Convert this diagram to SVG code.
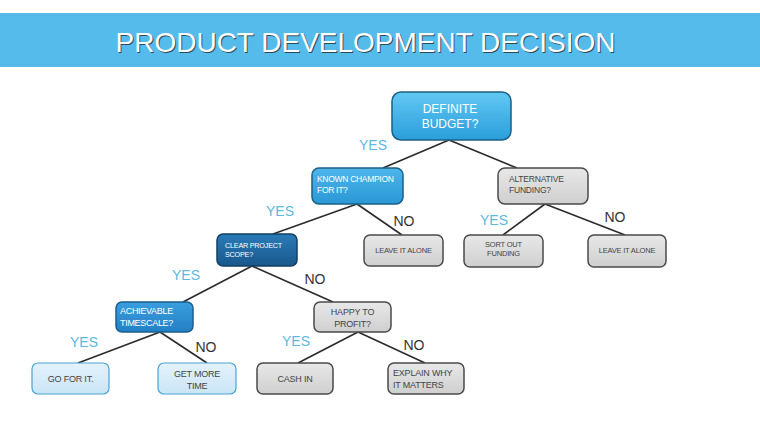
<svg xmlns="http://www.w3.org/2000/svg" width="760" height="428" viewBox="0 0 760 428">
<defs>
<linearGradient id="gBlue" x1="0" y1="0" x2="0" y2="1"><stop offset="0" stop-color="#62c8f2"/><stop offset="1" stop-color="#2a9edb"/></linearGradient>
<linearGradient id="gBlue2" x1="0" y1="0" x2="0" y2="1"><stop offset="0" stop-color="#4db5ea"/><stop offset="1" stop-color="#2a98d6"/></linearGradient>
<linearGradient id="gDark" x1="0" y1="0" x2="0" y2="1"><stop offset="0" stop-color="#2a7bb8"/><stop offset="1" stop-color="#19588c"/></linearGradient>
<linearGradient id="gMid" x1="0" y1="0" x2="0" y2="1"><stop offset="0" stop-color="#3a9ede"/><stop offset="1" stop-color="#2380c4"/></linearGradient>
<linearGradient id="gGray" x1="0" y1="0" x2="0" y2="1"><stop offset="0" stop-color="#e8e8e8"/><stop offset="1" stop-color="#cfcfcf"/></linearGradient>
<linearGradient id="gLight" x1="0" y1="0" x2="0" y2="1"><stop offset="0" stop-color="#e4f2fb"/><stop offset="1" stop-color="#cae5f6"/></linearGradient>
</defs>
<style>
text{font-family:"Liberation Sans",Arial,sans-serif}
.title{font-size:28px;fill:#ffffff}
.tshadow{font-size:28px;fill:#2d4a5a}
.yes{font-size:14px;fill:#5bb8e0;text-anchor:middle}
.no{font-size:14px;fill:#333333;text-anchor:middle}
.conn line{stroke:#2b2b2b;stroke-width:1.6}
.nb{stroke:#1d5f86;stroke-width:1.5}
.ng{fill:url(#gGray);stroke:#4a4a4a;stroke-width:1.5}
.nl{fill:url(#gLight);stroke:#4aa3d6;stroke-width:1.2}
.w{fill:#ffffff}
.d{fill:#444444}
.c{text-anchor:middle}
</style>
<rect x="0" y="0" width="760" height="428" fill="#ffffff"/>
<rect x="0" y="13" width="760" height="54" fill="#55bbea"/>
<text class="tshadow" x="366.5" y="53" text-anchor="middle">PRODUCT DEVELOPMENT DECISION</text>
<text class="title" x="365.5" y="52" text-anchor="middle">PRODUCT DEVELOPMENT DECISION</text>

<g id="connectors" class="conn">
<line x1="449" y1="140" x2="383" y2="168"/>
<line x1="449" y1="140" x2="517" y2="168"/>
<line x1="357" y1="204" x2="273" y2="234"/>
<line x1="357" y1="204" x2="402" y2="235"/>
<line x1="545" y1="204" x2="503" y2="235"/>
<line x1="545" y1="204" x2="625" y2="235"/>
<line x1="252" y1="266" x2="183" y2="302"/>
<line x1="252" y1="266" x2="333" y2="302"/>
<line x1="160" y1="332" x2="78" y2="363"/>
<line x1="160" y1="332" x2="207" y2="363"/>
<line x1="358" y1="332" x2="298" y2="363"/>
<line x1="358" y1="332" x2="425" y2="363"/>
</g>

<g id="labels">
<text class="yes" x="373" y="150">YES</text>
<text class="yes" x="280" y="216">YES</text>
<text class="no" x="404" y="226">NO</text>
<text class="yes" x="494" y="225">YES</text>
<text class="no" x="615" y="222">NO</text>
<text class="yes" x="186" y="280">YES</text>
<text class="no" x="315" y="284">NO</text>
<text class="yes" x="84" y="347">YES</text>
<text class="no" x="206" y="352">NO</text>
<text class="yes" x="296" y="346">YES</text>
<text class="no" x="414" y="350">NO</text>
</g>

<g id="definite-budget">
<rect x="392" y="92" width="119" height="48" rx="9" fill="url(#gBlue)" class="nb"/>
<text class="w c" x="450" y="113" font-size="12">DEFINITE</text>
<text class="w c" x="450" y="128" font-size="12">BUDGET?</text>
</g>
<g id="known-champion">
<rect x="312" y="168" width="91" height="36" rx="7" fill="url(#gBlue2)" class="nb"/>
<text class="w" x="317" y="182" font-size="8.5" letter-spacing="-0.3">KNOWN CHAMPION</text>
<text class="w" x="317" y="193" font-size="8.5" letter-spacing="-0.3">FOR IT?</text>
</g>
<g id="alternative-funding">
<rect x="498" y="168" width="90" height="36" rx="7" class="ng"/>
<text class="d" x="509" y="182" font-size="8.5" letter-spacing="-0.2">ALTERNATIVE</text>
<text class="d" x="509" y="193" font-size="8.5" letter-spacing="-0.2">FUNDING?</text>
</g>
<g id="clear-project-scope">
<rect x="217" y="234" width="80" height="32" rx="6" fill="url(#gDark)" stroke="#123f63" stroke-width="1.5"/>
<text class="w" x="225" y="248" font-size="7.2" letter-spacing="-0.2">CLEAR PROJECT</text>
<text class="w" x="225" y="257" font-size="7.2" letter-spacing="-0.2">SCOPE?</text>
</g>
<g id="leave-it-alone-1">
<rect x="364" y="235" width="79" height="31" rx="6" class="ng"/>
<text class="d c" x="403.5" y="253" font-size="7.5" letter-spacing="-0.2">LEAVE IT ALONE</text>
</g>
<g id="sort-out-funding">
<rect x="464" y="235" width="79" height="32" rx="6" class="ng"/>
<text class="d c" x="503.5" y="247" font-size="7.5" letter-spacing="-0.2">SORT OUT</text>
<text class="d c" x="503.5" y="256" font-size="7.5" letter-spacing="-0.2">FUNDING</text>
</g>
<g id="leave-it-alone-2">
<rect x="588" y="235" width="78" height="32" rx="6" class="ng"/>
<text class="d c" x="627" y="253" font-size="7.5" letter-spacing="-0.2">LEAVE IT ALONE</text>
</g>
<g id="achievable-timescale">
<rect x="116" y="302" width="77" height="30" rx="6" fill="url(#gMid)" stroke="#1a5d8c" stroke-width="1.5"/>
<text class="w" x="120" y="314" font-size="9" letter-spacing="-0.3">ACHIEVABLE</text>
<text class="w" x="120" y="326" font-size="9" letter-spacing="-0.3">TIMESCALE?</text>
</g>
<g id="happy-to-profit">
<rect x="314" y="302" width="77" height="30" rx="6" class="ng"/>
<text class="d c" x="352.5" y="315" font-size="9" letter-spacing="-0.2">HAPPY TO</text>
<text class="d c" x="352.5" y="327" font-size="9" letter-spacing="-0.2">PROFIT?</text>
</g>
<g id="go-for-it">
<rect x="32" y="363" width="77" height="31" rx="6" class="nl"/>
<text class="d c" x="70.5" y="382" font-size="9" letter-spacing="-0.2">GO FOR IT.</text>
</g>
<g id="get-more-time">
<rect x="158" y="363" width="78" height="31" rx="6" class="nl"/>
<text class="d c" x="197" y="377" font-size="9" letter-spacing="-0.2">GET MORE</text>
<text class="d c" x="197" y="389" font-size="9" letter-spacing="-0.2">TIME</text>
</g>
<g id="cash-in">
<rect x="257" y="363" width="76" height="31" rx="6" class="ng"/>
<text class="d c" x="295" y="382" font-size="9" letter-spacing="-0.2">CASH IN</text>
</g>
<g id="explain-why">
<rect x="388" y="363" width="76" height="31" rx="6" class="ng"/>
<text class="d" x="393" y="376" font-size="9" letter-spacing="-0.2">EXPLAIN WHY</text>
<text class="d" x="393" y="388" font-size="9" letter-spacing="-0.2">IT MATTERS</text>
</g>
</svg>
